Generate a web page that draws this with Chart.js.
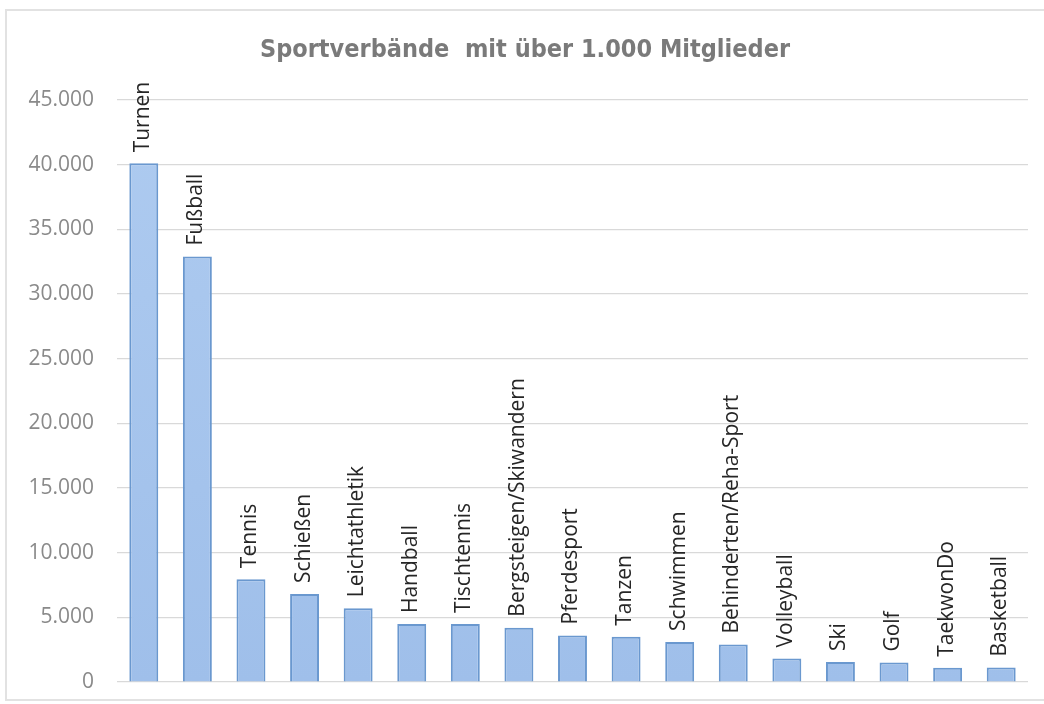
<!DOCTYPE html>
<html>
<head>
<meta charset="utf-8">
<script src="https://cdn.jsdelivr.net/npm/chart.js@4.4.0/dist/chart.umd.min.js"></script>
<style>
  html, body { margin: 0; padding: 0; background: #fff; overflow: hidden; }
  #frame { position: absolute; left: 5px; top: 9px; width: 1050px; height: 692px; border: 2px solid #e2e2e2; box-sizing: border-box; }
  #sport { position: absolute; left: 0; top: 0; }
</style>
</head>
<body>
<div id="frame"></div>
<canvas id="sport" width="1044" height="704"></canvas>
<script>
var sports = [
  "Turnen", "Fußball", "Tennis", "Schießen", "Leichtathletik", "Handball",
  "Tischtennis", "Bergsteigen/Skiwandern", "Pferdesport", "Tanzen", "Schwimmen",
  "Behinderten/Reha-Sport", "Volleyball", "Ski", "Golf", "TaekwonDo", "Basketball"
];
var members = [
  40100, 32900, 7950, 6800, 5700, 4480,
  4480, 4200, 3600, 3500, 3100,
  2900, 1820, 1550, 1500, 1100, 1120
];
var yTicks = [0, 5000, 10000, 15000, 20000, 25000, 30000, 35000, 40000, 45000];

function fmt(v) {
  return v.toLocaleString("de-DE");
}

// labels standing vertically on top of each bar
var barLabels = {
  id: "barLabels",
  afterDatasetsDraw: function(chart) {
    var ctx = chart.ctx;
    var meta = chart.getDatasetMeta(0);
    ctx.save();
    ctx.font = "21px 'Open Sans'";
    ctx.fillStyle = "#262626";
    ctx.textAlign = "left";
    ctx.textBaseline = "middle";
    meta.data.forEach(function(bar, i) {
      ctx.save();
      ctx.translate(bar.x - 1, bar.y - 11);
      ctx.rotate(-Math.PI / 2);
      ctx.fillText(sports[i], 0, 0);
      ctx.restore();
    });
    ctx.restore();
  }
};

var ctx = document.getElementById("sport").getContext("2d");
var grad = ctx.createLinearGradient(0, 100, 0, 682);
grad.addColorStop(0, "#aecbf0");
grad.addColorStop(1, "#9fbfea");

var chart = new Chart(ctx, {
  type: "bar",
  data: {
    labels: sports,
    datasets: [{
      data: members,
      backgroundColor: grad,
      borderColor: "#6a98cf",
      borderWidth: 2,
      barPercentage: 0.54,
      categoryPercentage: 1
    }]
  },
  options: {
    responsive: false,
    animation: false,
    layout: { padding: { top: 10, right: 16, bottom: 22, left: 22 } },
    plugins: {
      legend: { display: false },
      tooltip: { enabled: false },
      title: {
        display: true,
        text: "Sportverbände  mit über 1.000 Mitglieder",
        color: "#7a7a7a",
        font: { family: "'DejaVu Sans Condensed', 'DejaVu Sans'", size: 25, weight: "bold" },
        padding: { top: 25, bottom: 35 }
      }
    },
    scales: {
      x: {
        display: false
      },
      y: {
        min: 0,
        max: 45000,
        afterBuildTicks: function(axis) {
          axis.ticks = yTicks.map(function(v) { return { value: v }; });
        },
        afterFit: function(axis) { axis.width = 95; },
        grid: { color: "#d9d9d9", lineWidth: 1.2, drawTicks: true, tickLength: 22, tickColor: "rgba(0,0,0,0)" },
        border: { display: false },
        ticks: {
          color: "#8a8a8a",
          padding: 1,
          font: { family: "'Open Sans'", size: 21 },
          callback: function(v) { return fmt(v); }
        }
      }
    }
  },
  plugins: [barLabels]
});
</script>
</body>
</html>
